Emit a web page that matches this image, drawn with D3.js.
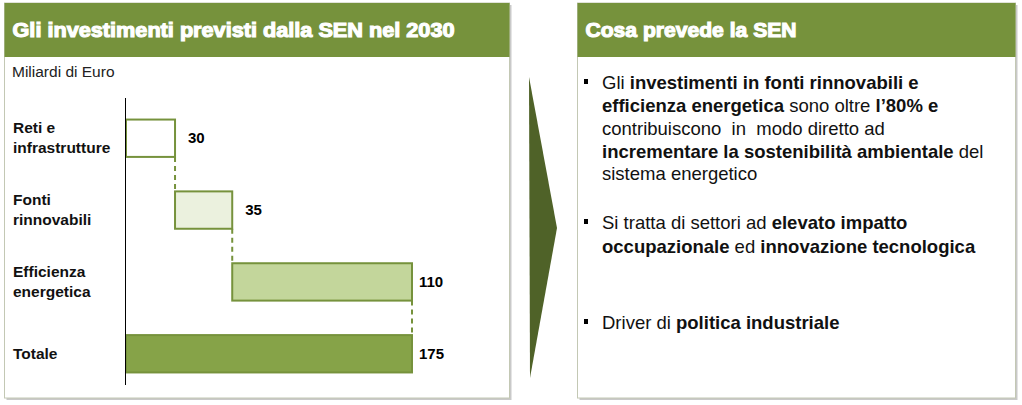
<!DOCTYPE html>
<html>
<head>
<meta charset="UTF-8">
<title>Investimenti SEN 2030</title>
<script src="https://cdn.jsdelivr.net/npm/d3@7/dist/d3.min.js"></script>
<style>
body { margin: 0; background: #fff; }
text { font-family: "Liberation Sans", Arial, sans-serif; }
</style>
</head>
<body>
<script>
// dati
var categories = ["Reti e|infrastrutture", "Fonti|rinnovabili", "Efficienza|energetica", "Totale"];
var values = [30, 35, 110, 175];
var fills = ["#ffffff", "#ebf1de", "#c3d69b", "#86a348"];
var bullets = [
    [[["Gli ", 0], ["investimenti in fonti rinnovabili e", 1]],
     [["efficienza energetica", 1], [" sono oltre ", 0], ["l\u201980% e", 1]],
     [["contribuiscono  in  modo diretto ad", 0]],
     [["incrementare la sostenibilit\u00e0 ambientale", 1], [" del", 0]],
     [["sistema energetico", 0]]],
    [[["Si tratta di settori ad ", 0], ["elevato impatto", 1]],
     [["occupazionale", 1], [" ed ", 0], ["innovazione tecnologica", 1]]],
    [[["Driver di ", 0], ["politica industriale", 1]]]
];

var W = 1022, H = 405;
var green = "#76923c", dark = "#4f6228";
var svg = d3.select("body").append("svg").attr("width", W).attr("height", H);

function panel(x, w, title, tw){
    // ombra
    svg.append("rect").attr("x", x + 2).attr("y", 5).attr("width", w).attr("height", 395)
        .attr("fill", "#c9c9c9");
    svg.append("rect").attr("x", x).attr("y", 3).attr("width", w).attr("height", 395)
        .attr("fill", "#fff").attr("stroke", "#c3c8b4").attr("stroke-width", 1);
    svg.append("rect").attr("x", x).attr("y", 3).attr("width", w).attr("height", 54)
        .attr("fill", green);
    svg.append("text").attr("x", x + 8).attr("y", 37).text(title)
        .attr("fill", "#fff").attr("font-size", 19.5).attr("font-weight", "bold")
        .attr("stroke", "#fff").attr("stroke-width", 1.1)
        .attr("textLength", tw).attr("lengthAdjust", "spacingAndGlyphs");
}
panel(4.5, 505, "Gli investimenti previsti dalla SEN nel 2030", 442);
panel(577.5, 438, "Cosa prevede la SEN", 211);

svg.append("text").attr("x", 12).attr("y", 77).text("Miliardi di Euro")
    .attr("font-size", 15.5).attr("fill", "#222");

// grafico a cascata
var x = d3.scaleLinear().domain([0, 175]).range([126, 412]);
var y = d3.scaleBand().domain(categories).range([98, 394]).paddingInner(0.48).paddingOuter(0.3);

var starts = [];
var acc = 0;
values.forEach(function(v, i){
    if(i == values.length - 1){ starts.push(0); }
    else { starts.push(acc); acc += v; }
});

// connettori tratteggiati
for(var i = 0; i < values.length - 1; i++){
    var xe = x(starts[i] + values[i]);
    svg.append("line").attr("x1", xe).attr("x2", xe)
        .attr("y1", y(categories[i]) + y.bandwidth()).attr("y2", y(categories[i + 1]))
        .attr("stroke", green).attr("stroke-width", 2).attr("stroke-dasharray", "5,4");
}

svg.selectAll(".bar").data(values).enter().append("rect")
    .attr("class", "bar")
    .attr("x", function(d, i){ return x(starts[i]); })
    .attr("y", function(d, i){ return y(categories[i]); })
    .attr("width", function(d, i){ return x(starts[i] + d) - x(starts[i]); })
    .attr("height", y.bandwidth())
    .attr("fill", function(d, i){ return fills[i]; })
    .attr("stroke", green).attr("stroke-width", 2);

svg.selectAll(".val").data(values).enter().append("text")
    .attr("class", "val")
    .attr("x", function(d, i){ return x(starts[i] + d) + (d < 50 ? 13 : 7); })
    .attr("y", function(d, i){ return y(categories[i]) + y.bandwidth() / 2 + 5; })
    .attr("font-size", 15).attr("font-weight", "bold").text(function(d){ return d; });

svg.append("line").attr("x1", 125.5).attr("x2", 125.5).attr("y1", 98).attr("y2", 385)
    .attr("stroke", "#000").attr("stroke-width", 1);

categories.forEach(function(c, i){
    var lines = c.split("|");
    var cy = y(c) + y.bandwidth() / 2;
    var t = svg.append("text").attr("font-size", 15.5).attr("font-weight", "bold").attr("fill", "#111");
    lines.forEach(function(l, k){
        t.append("tspan").attr("x", 13)
            .attr("y", cy + 5 + (k - (lines.length - 1) / 2) * 20).text(l);
    });
});

// freccia
svg.append("path").attr("d", "M529,77 L557,228 L530,378 Z").attr("fill", dark);

// elenco puntato
var lineY = [89, 112, 135, 158, 180, 229, 253, 329];
var n = 0;
bullets.forEach(function(b){
    svg.append("rect").attr("x", 584).attr("y", lineY[n] - 10).attr("width", 4).attr("height", 5)
        .attr("fill", "#000");
    b.forEach(function(line){
        var t = svg.append("text").attr("x", 602).attr("y", lineY[n])
            .attr("font-size", 18.5).attr("fill", "#111").attr("xml:space", "preserve")
            .style("white-space", "pre");
        line.forEach(function(p){
            t.append("tspan").attr("font-weight", p[1] ? "bold" : "normal").text(p[0]);
        });
        n++;
    });
});
</script>
</body>
</html>
